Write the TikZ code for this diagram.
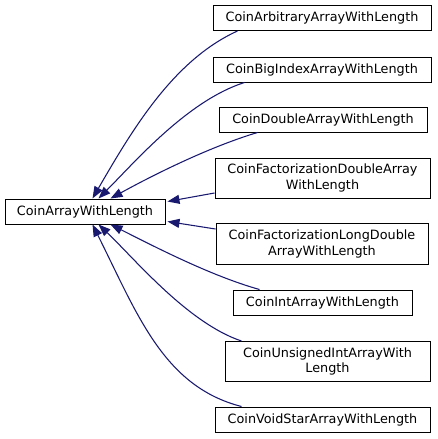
\documentclass[tikz,border=0pt]{standalone}
\usepackage{fontspec}
\setmainfont{DejaVu Sans}
\usetikzlibrary{arrows.meta,calc}
\definecolor{midnightblue}{RGB}{25,25,112}
\tikzset{
  clase/.style={draw=black, line width=0.75pt, fill=white, align=center,
    inner sep=0pt, font=\fontsize{9.6}{11.5}\selectfont},
  herencia/.style={draw=midnightblue, line width=0.8pt,
    -{Triangle[length=9pt,width=6.75pt]}}
}
\begin{document}
\begin{tikzpicture}[x=0.75pt,y=-0.75pt]
    \useasboundingbox (0,0) rectangle (437,439);

    % Definir las clases
    \node[clase, minimum width=120pt, minimum height=18.75pt] (base) at (85,211.5) {CoinArrayWithLength};
    \node[clase, minimum width=163.5pt, minimum height=18.75pt] (arb) at (322,18) {CoinArbitraryArrayWithLength};
    \node[clase, minimum width=163.5pt, minimum height=18.75pt] (big) at (322,69.5) {CoinBigIndexArrayWithLength};
    \node[clase, minimum width=156pt, minimum height=18.75pt] (dbl) at (323,119.5) {CoinDoubleArrayWithLength};
    \node[clase, minimum width=161.25pt, minimum height=30pt] (fdb) at (322.5,178) {CoinFactorizationDoubleArray\\WithLength};
    \node[clase, minimum width=159pt, minimum height=30.75pt] (fld) at (322,244) {CoinFactorizationLongDouble\\ArrayWithLength};
    \node[clase, minimum width=134.25pt, minimum height=18.75pt] (int) at (322.5,302.5) {CoinIntArrayWithLength};
    \node[clase, minimum width=153.75pt, minimum height=30pt] (uns) at (327.5,361.5) {CoinUnsignedIntArrayWith\\Length};
    \node[clase, minimum width=161.25pt, minimum height=18.75pt] (vsa) at (322.5,419.5) {CoinVoidStarArrayWithLength};

    % Dibujar las flechas de herencia
    \draw[herencia] ($(arb.south west)+(25,0)$) .. controls +(-64,29) and +(40,-69) .. ($(base.north west)+(88,0)$);
    \draw[herencia] ($(big.south west)+(32,0)$) .. controls +(-57,18) and +(35,-35) .. ($(base.north west)+(94,0)$);
    \draw[herencia] ($(dbl.south west)+(39,0)$) .. controls +(-50,15) and +(40,-22) .. ($(base.north west)+(106,0)$);
    \draw[herencia] ($(fdb.west)+(0,15)$) -- ($(base.east)+(2,-10)$);
    \draw[herencia] ($(fld.west)+(0,-15)$) -- ($(base.east)+(2,10)$);
    \draw[herencia] ($(int.north west)+(27,0)$) .. controls +(-50,-14) and +(40,20) .. ($(base.south west)+(106,0)$);
    \draw[herencia] ($(uns.north west)+(17,0)$) .. controls +(-54,-18) and +(35,33) .. ($(base.south west)+(94,0)$);
    \draw[herencia] ($(vsa.north west)+(27,0)$) .. controls +(-78,-20) and +(45,90) .. ($(base.south west)+(88,0)$);

\end{tikzpicture}
\end{document}
